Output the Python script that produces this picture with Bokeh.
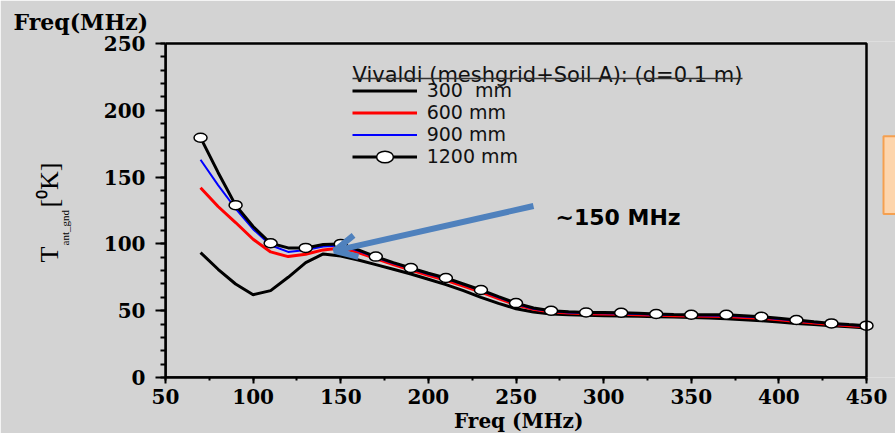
from bokeh.plotting import figure
from bokeh.models import (Label, Legend, LegendItem, Arrow, OpenHead, Title,
                          SingleIntervalTicker, BoxAnnotation, Range1d)
from bokeh.embed import file_html
from bokeh.resources import INLINE

# ---------------- data ----------------
freq = list(range(70, 451, 10))
t300 = [93.5, 81, 70, 62, 65, 75, 86, 92.5, 91, 88, 84.5, 81, 77.5, 73.5, 69.5, 65,
        60, 55.5, 51.5, 49, 47.5, 47, 46.5, 46.2, 46, 45.8, 45.5, 45.2, 45, 44.5,
        44, 43.3, 42.5, 41.5, 40.5, 39.7, 38.8, 38, 37]
t600 = [142, 128, 116, 103.5, 94, 90.5, 92.3, 95.5, 97, 93.5, 89, 84.5, 80.5, 76.5,
        72.8, 68.5, 64, 59, 54.5, 51, 49, 48.2, 47.7, 47.5, 47.3, 47, 46.6, 46.3, 46,
        45.8, 45.6, 45, 44.3, 43.2, 42, 40.8, 39.7, 38.8, 38]
t900 = [163, 144, 126.5, 111, 99, 94, 95.5, 98, 98.8, 94.8, 90, 85.5, 81.5, 77.5, 74,
        69.5, 65, 60, 55.2, 51.5, 49.5, 48.7, 48.2, 48, 47.9, 47.5, 47, 46.7, 46.5,
        46.4, 46.3, 45.7, 45, 43.8, 42.6, 41.4, 40.2, 39.3, 38.5]
t1200 = [179.5, 153.5, 129, 113, 100.5, 97, 97, 99.5, 100, 95.5, 90.5, 86, 82, 78,
         74.5, 70, 65.5, 60.5, 55.7, 52, 50, 49.2, 48.7, 48.6, 48.5, 48, 47.5, 47.2,
         47, 47, 47, 46.3, 45.5, 44.3, 43, 41.7, 40.5, 39.6, 38.8]
marker_freq = freq[::2]
marker_t1200 = t1200[::2]

series_labels = ["300  mm", "600 mm", "900 mm", "1200 mm"]
legend_title = "Vivaldi (meshgrid+Soil A): (d=0.1 m)"
annotation_text = "~150 MHz"
x_title = "Freq (MHz)"
corner_title = "Freq(MHz)"
y_title_main = "T"
y_title_sub = "ant_gnd"
y_title_unit = "[\u2070K]"

# ---------------- layout ----------------
W, H = 895, 433
FL, FR, FT, FB = 165, 866, 42, 377      # axes box in the reference (pixels)
X0, X1, Y0, Y1 = 50, 450, 0, 250
FTOP = 40                               # frame top (slightly above the box)


def px2x(px):
    return X0 + (px - FL) * (X1 - X0) / (FR - FL)


def py2y(py):
    return Y0 + (FB - py) * (Y1 - Y0) / (FB - FT)


BG = "#d3d3d3"
p = figure(width=W, height=H, x_range=Range1d(X0, px2x(W)),
           y_range=Range1d(Y0, py2y(FTOP)),
           output_backend="svg", toolbar_location=None,
           min_border_left=FL, min_border_right=0,
           min_border_top=FTOP, min_border_bottom=H - FB)
p.background_fill_color = BG
p.border_fill_color = BG
p.outline_line_color = None
p.grid.visible = False

serif_b = "DejaVu Serif"

xa = p.xaxis[0]
xa.ticker = SingleIntervalTicker(interval=50, num_minor_ticks=2)
xa.bounds = (X0, X1)
ya = p.yaxis[0]
ya.ticker = SingleIntervalTicker(interval=50, num_minor_ticks=5)
ya.bounds = (Y0, Y1)
for ax in (xa, ya):
    ax.axis_line_width = 2.5
    ax.axis_line_color = "black"
    ax.major_tick_line_width = 2
    ax.minor_tick_line_width = 2
    ax.major_tick_in = 0
    ax.minor_tick_in = 0
    ax.major_label_text_font = serif_b
    ax.major_label_text_font_style = "bold"
    ax.major_label_text_font_size = "20px"
    ax.major_label_text_color = "black"
xa.major_tick_out = 6
xa.minor_tick_out = 3
xa.major_label_standoff = 5
ya.major_tick_out = 10
ya.minor_tick_out = 5
ya.major_label_standoff = 10

# box around the data area (top and right sides)
p.add_layout(BoxAnnotation(left=X0, right=X1, bottom=Y0, top=Y1,
                           fill_color=None, line_color="black", line_alpha=1,
                           line_width=2.5))

# x title (below), centred on the axes box
p.add_layout(Title(text=x_title, align="left", offset=(FL + FR) / 2 - 62 - FL,
                   standoff=0, text_font=serif_b, text_font_style="bold",
                   text_font_size="20px", text_color="black"), "below")

# corner title
p.title.text = corner_title
p.title.align = "left"
p.title.offset = 13 - FL
p.title.text_font = serif_b
p.title.text_font_style = "bold"
p.title.text_font_size = "22px"
p.title.text_color = "black"
p.title.standoff = 13

# y-axis title: T_{ant_gnd} [⁰K]
sub_t = Title(text=y_title_sub, align="left", offset=FB - 245, standoff=60,
              text_font="Liberation Serif", text_font_size="11px",
              text_font_style="normal", text_color="black")
p.add_layout(sub_t, "left")
main_t = Title(text=y_title_main + "\u00a0" * 6 + y_title_unit, align="left",
               offset=FB - 262, standoff=-74,
               text_font="Liberation Serif", text_font_size="26px",
               text_font_style="normal", text_color="black")
p.add_layout(main_t, "left")

# orange box at right edge (cut-off slide element)
p.add_layout(BoxAnnotation(left=px2x(883), right=px2x(910), top=py2y(135),
                           bottom=py2y(213), fill_color="#fdd5ad", fill_alpha=1,
                           line_color="#f5a050", line_alpha=1, line_width=2))

# ---------------- curves ----------------
r300 = p.line(freq, t300, line_color="black", line_width=3)
r600 = p.line(freq, t600, line_color="#ff0000", line_width=3)
r900 = p.line(freq, t900, line_color="#0000ff", line_width=2)
r1200 = p.line(freq, t1200, line_color="black", line_width=3)
r1200m = p.ellipse(x=marker_freq, y=marker_t1200, width=13, height=9,
                   width_units="screen", height_units="screen",
                   fill_color="white", line_color="black", line_width=1.5)

legend = Legend(items=[LegendItem(label=series_labels[0], renderers=[r300]),
                       LegendItem(label=series_labels[1], renderers=[r600]),
                       LegendItem(label=series_labels[2], renderers=[r900]),
                       LegendItem(label=series_labels[3], renderers=[r1200, r1200m])],
                location=(186.7, 210), padding=0, margin=0, spacing=0,
                border_line_alpha=0, background_fill_alpha=0,
                glyph_width=65, glyph_height=21, label_height=21, label_standoff=10,
                label_text_font="DejaVu Sans", label_text_font_size="19px",
                label_text_color="#111111")
p.add_layout(legend)

p.add_layout(Label(x=px2x(352), y=py2y(74), text=legend_title,
                   text_font="DejaVu Sans", text_font_size="21px",
                   text_color="#111111", text_baseline="alphabetic"))
p.add_layout(BoxAnnotation(left=px2x(352), right=px2x(352 + 390),
                           top=py2y(76.3), bottom=py2y(77.8),
                           fill_color="#333333", fill_alpha=1, line_alpha=0))

# arrow and annotation
ac = "#4f81bd"
p.add_layout(Arrow(end=OpenHead(size=22, line_color=ac, line_width=6),
                   x_start=px2x(533), y_start=py2y(205),
                   x_end=px2x(334), y_end=py2y(250),
                   line_color=ac, line_width=6))
p.add_layout(Label(x=px2x(555), y=py2y(216.5), text=annotation_text,
                   text_font="DejaVu Sans", text_font_style="bold",
                   text_font_size="22px", text_color="black",
                   text_baseline="alphabetic"))

open("out.html", "w").write(file_html(p, INLINE))
